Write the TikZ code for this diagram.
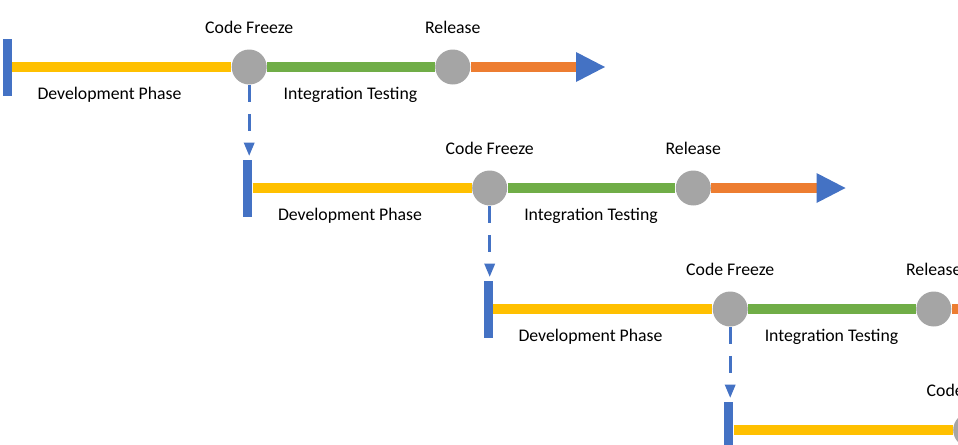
\documentclass[tikz,border=0pt]{standalone}
\usepackage{fontspec}
\setmainfont{Carlito}
\usetikzlibrary{arrows.meta}
\definecolor{devyellow}{HTML}{FFC000}
\definecolor{testgreen}{HTML}{70AD47}
\definecolor{relorange}{HTML}{ED7D31}
\definecolor{barblue}{HTML}{4472C4}
\definecolor{dotgray}{HTML}{A5A5A5}
\tikzset{
	phase/.style={line width=0.2cm},
	startbar/.style={rectangle, fill=barblue, inner sep=0pt, minimum width=0.18cm, minimum height=1.14cm},
	milestone/.style={circle, fill=dotgray, inner sep=0pt, minimum size=0.7cm},
	lbl/.style={anchor=base, inner sep=0pt, font=\fontsize{10.1}{12}\selectfont},
	handoff/.style={barblue, line width=0.06cm, dash pattern=on 0.34cm off 0.24cm,
		-{Triangle[length=0.26cm, width=0.22cm, line width=0pt]}, shorten >=0.07cm}
}
\begin{document}
\begin{tikzpicture}[x=0.02cm, y=-0.02cm]
	\useasboundingbox (0,0) rectangle (958,444);
	\clip (0,0) rectangle (958,444);
	\foreach \i in {0,1,2,3}{
		\begin{scope}[shift={(240.5*\i,121*\i)}]
			\node[startbar] (s\i) at (7.2,67) {};
			\node[milestone] (f\i) at (249.2,67) {};
			\node[milestone] (r\i) at (452.8,67) {};
			\coordinate (e\i) at (605,67);
			\draw[phase, devyellow] (s\i) -- (f\i);
			\draw[phase, testgreen] (f\i) -- (r\i);
			\draw[phase, relorange, -{Triangle[length=0.58cm, width=0.6cm, line width=0pt, color=barblue]}] (r\i) -- (e\i);
			\node[lbl] (cf\i) at (249.2,33) {Code Freeze};
			\node[lbl] (rl\i) at (452.8,33) {Release};
			\node[lbl] (dp\i) at (109.5,99) {Development Phase};
			\node[lbl] (it\i) at (350.5,99) {Integration Testing};
		\end{scope}
	}
	\foreach \i/\j in {0/1,1/2,2/3}
		\draw[handoff] (f\i.south) -- (f\i.south |- s\j.north);
\end{tikzpicture}
\end{document}
